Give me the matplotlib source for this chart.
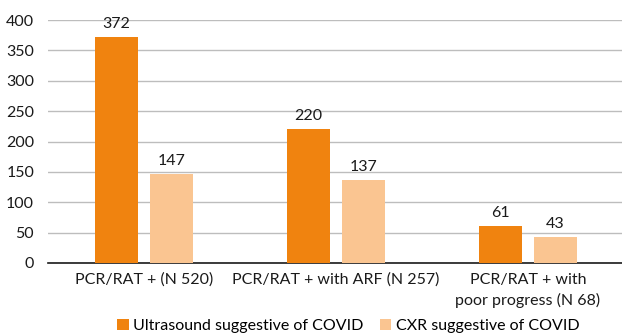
import numpy as np
import matplotlib
matplotlib.use("Agg")
import matplotlib.pyplot as plt

# Datos
categories = ["PCR/RAT + (N 520)", "PCR/RAT + with ARF (N 257)",
              "PCR/RAT + with\npoor progress (N 68)"]
ultrasound = [372, 220, 61]
cxr = [147, 137, 43]
series_names = ["Ultrasound suggestive of COVID", "CXR suggestive of COVID"]

plt.rcParams['font.family'] = ['Lato', 'DejaVu Sans']
fs = 11.5

fig = plt.figure(figsize=(6.22, 3.35), dpi=100)
ax = fig.add_axes([48 / 622, 1 - 263 / 335, 574 / 622, 243 / 335])

x = np.arange(len(categories))
w = 0.224
off = 0.143
b1 = ax.bar(x - off, ultrasound, w, color="#F0830F", label=series_names[0], zorder=3)
b2 = ax.bar(x + off, cxr, w, color="#FAC591", label=series_names[1], zorder=3)

# Etiquetas de valor sobre cada barra
for bars, vals in ((b1, ultrasound), (b2, cxr)):
    for r, v in zip(bars, vals):
        ax.text(r.get_x() + r.get_width() / 2, v + 10, str(v),
                ha="center", va="bottom", fontsize=fs, color="#1a1a1a")

ax.set_xlim(-0.5, 2.49)
ax.set_ylim(0, 400)
ax.set_yticks(range(0, 401, 50))
ax.yaxis.grid(True, color="#BDBDBD", linewidth=1, zorder=0)
ax.set_xticks(x)
ax.set_xticklabels(categories, linespacing=1.55)
ax.tick_params(axis="both", length=0, colors="#1a1a1a", labelsize=fs)
ax.tick_params(axis="x", pad=7)
ax.tick_params(axis="y", pad=10)
for s in ("top", "right", "left"):
    ax.spines[s].set_visible(False)
ax.spines["bottom"].set_color("#1a1a1a")
ax.spines["bottom"].set_linewidth(1.2)

fig.legend(handles=[b1, b2], loc="center", bbox_to_anchor=(0.56, 1 - 326 / 335),
           ncol=2, frameon=False, fontsize=fs, handlelength=0.7, handleheight=0.7,
           handletextpad=0.3, columnspacing=1.0)

fig.savefig("out.png", dpi=100)
